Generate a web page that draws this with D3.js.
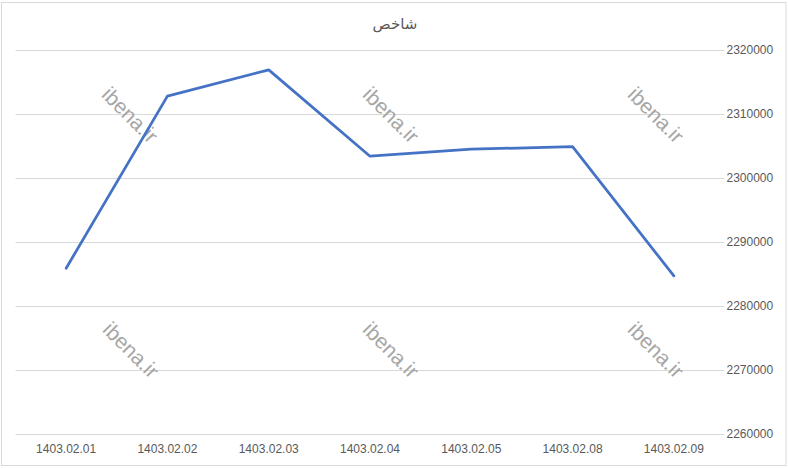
<!DOCTYPE html>
<html>
<head>
<meta charset="utf-8">
<script src="https://cdn.jsdelivr.net/npm/d3@7"></script>
<style>
  body { margin: 0; background: #fff; }
  svg text { font-family: "Liberation Sans", "DejaVu Sans", sans-serif; }
</style>
</head>
<body>
<div id="chart"></div>
<script>
// chart data
var title = "شاخص";
var dates = ["1403.02.01", "1403.02.02", "1403.02.03", "1403.02.04", "1403.02.05", "1403.02.08", "1403.02.09"];
var values = [2285900, 2312800, 2316900, 2303400, 2304500, 2304900, 2284700];
var yTicks = [2260000, 2270000, 2280000, 2290000, 2300000, 2310000, 2320000];
var watermark = "ibena.ir";

var W = 788, H = 468;
// plot area (note: "top" is a reserved window property, so use plot* names)
var plotLeft = 15.5, plotRight = 724.5, plotTop = 50, plotBottom = 434;

var svg = d3.select("#chart").append("svg")
  .attr("width", W)
  .attr("height", H);

svg.append("rect")
  .attr("x", 1.5).attr("y", 2.5)
  .attr("width", W - 3.5).attr("height", H - 5)
  .attr("fill", "#fff")
  .attr("stroke", "#d9d9d9")
  .attr("stroke-width", 1);

var x = d3.scaleBand().domain(dates).range([plotLeft, plotRight]);
var y = d3.scaleLinear().domain([2260000, 2320000]).range([plotBottom, plotTop]);

// gridlines
svg.append("g").selectAll("line")
  .data(yTicks)
  .enter()
  .append("line")
  .attr("x1", plotLeft)
  .attr("x2", plotRight)
  .attr("y1", function(d) { return Math.round(y(d)) + 0.5; })
  .attr("y2", function(d) { return Math.round(y(d)) + 0.5; })
  .attr("stroke", "#d9d9d9")
  .attr("stroke-width", 1);

// y axis on the right
var yAxis = svg.append("g")
  .attr("transform", "translate(" + plotRight + ",0)")
  .call(d3.axisRight(y).tickValues(yTicks).tickSize(0).tickPadding(2).tickFormat(d3.format("d")));
yAxis.select(".domain").remove();
yAxis.selectAll("text")
  .attr("font-size", "12px")
  .attr("fill", "#595959");

// x axis
var xAxis = svg.append("g")
  .attr("transform", "translate(0," + plotBottom + ")")
  .call(d3.axisBottom(x).tickSize(0).tickPadding(10));
xAxis.select(".domain").remove();
xAxis.selectAll("text")
  .attr("font-size", "12px")
  .attr("fill", "#595959");

// title
svg.append("text")
  .attr("x", 395)
  .attr("y", 29)
  .attr("text-anchor", "middle")
  .attr("font-size", "15px")
  .attr("fill", "#595959")
  .text(title);

// watermarks
var marks = [[130, 115], [391, 115], [656, 115], [131, 350], [391, 350], [656, 350]];
svg.append("g").selectAll("text")
  .data(marks)
  .enter()
  .append("text")
  .attr("transform", function(d) { return "translate(" + d[0] + "," + d[1] + ") rotate(45)"; })
  .attr("text-anchor", "middle")
  .attr("dy", "0.35em")
  .attr("font-size", "21px")
  .attr("fill", "#a6a6a6")
  .text(watermark);

// line
var line = d3.line()
  .x(function(d, i) { return x(dates[i]) + x.bandwidth() / 2; })
  .y(function(d) { return y(d); });

svg.append("path")
  .datum(values)
  .attr("d", line)
  .attr("fill", "none")
  .attr("stroke", "#4472c4")
  .attr("stroke-width", 2.75)
  .attr("stroke-linejoin", "round")
  .attr("stroke-linecap", "round");
</script>
</body>
</html>
